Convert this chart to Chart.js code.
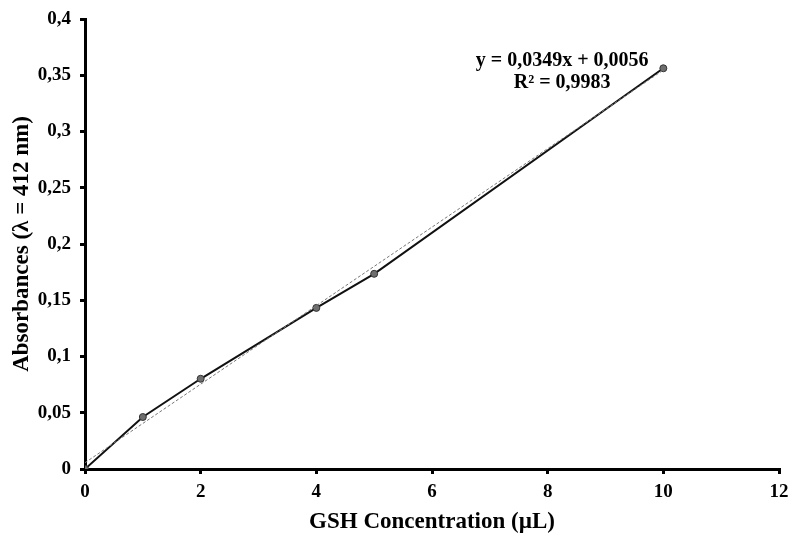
<!DOCTYPE html>
<html>
<head>
<meta charset="utf-8">
<script src="https://cdn.jsdelivr.net/npm/chart.js@4"></script>
<style>
  html, body { margin: 0; padding: 0; background: #fff; }
  #wrap { width: 790px; height: 536px; }
</style>
</head>
<body>
<div id="wrap"><canvas id="myChart" width="790" height="536"></canvas></div>
<script>
'use strict';

// measured points
var concX = [0, 1, 2, 4, 5, 10];
var absY = [0, 0.0462, 0.0802, 0.1432, 0.1735, 0.3562];

// linear trendline endpoints (y = 0,0349x + 0,0056)
var trendX = [0, 10];
var trendY = [0.0056, 0.3546];

var eqLines = ['y = 0,0349x + 0,0056', 'R\u00b2 = 0,9983'];

var xTicks = [0, 2, 4, 6, 8, 10, 12];
var yTicks = [0, 0.05, 0.1, 0.15, 0.2, 0.25, 0.3, 0.35, 0.4];

function fmt(v) {
    return String(Math.round(v * 100) / 100).replace('.', ',');
}

const eqPlugin = {
    id: 'eqLabel',
    afterDatasetsDraw(chart) {
        const ctx = chart.ctx;
        const xs = chart.scales.x, ys = chart.scales.y;
        ctx.save();
        ctx.font = 'bold 20px "Liberation Serif", "Times New Roman", serif';
        ctx.fillStyle = '#000';
        ctx.textAlign = 'center';
        ctx.textBaseline = 'middle';
        const cx = xs.getPixelForValue(8.25);
        ctx.fillText(eqLines[0], cx, ys.getPixelForValue(0.3632));
        ctx.fillText(eqLines[1], cx, ys.getPixelForValue(0.3436));
        ctx.restore();
    }
};

const config = {
    type: 'scatter',
    data: {
        datasets: [
            {
                label: 'trend',
                data: trendX.map((x, i) => ({x: x, y: trendY[i]})),
                showLine: true,
                borderColor: '#777',
                borderWidth: 1,
                borderDash: [3, 2],
                pointRadius: 0
            },
            {
                label: 'GSH',
                data: concX.map((x, i) => ({x: x, y: absY[i]})),
                showLine: true,
                borderColor: '#111',
                borderWidth: 2,
                pointRadius: 3.5,
                pointBackgroundColor: '#6e6e6e',
                pointBorderColor: '#333',
                pointBorderWidth: 1
            }
        ]
    },
    options: {
        responsive: false,
        animation: false,
        layout: { padding: { left: 0, right: 11, top: 19, bottom: 0 } },
        plugins: {
            legend: { display: false },
            tooltip: { enabled: false }
        },
        scales: {
            x: {
                type: 'linear',
                min: 0, max: 12,
                afterBuildTicks: s => { s.ticks = xTicks.map(v => ({value: v})); },
                afterFit: s => { s.height = 67; s.paddingRight = 0; s.paddingLeft = 0; },
                border: { color: '#000', width: 3 },
                grid: { drawOnChartArea: false, color: '#000', tickLength: 5, lineWidth: 3 },
                ticks: {
                    color: '#000',
                    padding: 7,
                    font: { family: '"Liberation Serif", serif', size: 19, weight: 'bold' },
                    callback: v => String(v)
                },
                title: {
                    display: true,
                    text: 'GSH Concentration (\u00b5L)',
                    color: '#000',
                    padding: { top: 4, bottom: 0 },
                    font: { family: '"Liberation Serif", serif', size: 23, weight: 'bold' }
                }
            },
            y: {
                type: 'linear',
                min: 0, max: 0.4,
                afterBuildTicks: s => { s.ticks = yTicks.map(v => ({value: v})); },
                afterFit: s => { s.width = 85; s.paddingTop = 0; s.paddingBottom = 0; },
                border: { color: '#000', width: 3 },
                grid: { drawOnChartArea: false, color: '#000', tickLength: 5, lineWidth: 3 },
                ticks: {
                    color: '#000',
                    padding: 9,
                    font: { family: '"Liberation Serif", serif', size: 19, weight: 'bold' },
                    callback: v => fmt(v)
                },
                title: {
                    display: true,
                    text: 'Absorbances (\u03bb = 412 nm)',
                    color: '#000',
                    padding: { top: 8, bottom: 0 },
                    font: { family: '"Liberation Serif", serif', size: 23, weight: 'bold' }
                }
            }
        }
    },
    plugins: [eqPlugin]
};

const myChart = new Chart(document.getElementById('myChart'), config);
</script>
</body>
</html>
